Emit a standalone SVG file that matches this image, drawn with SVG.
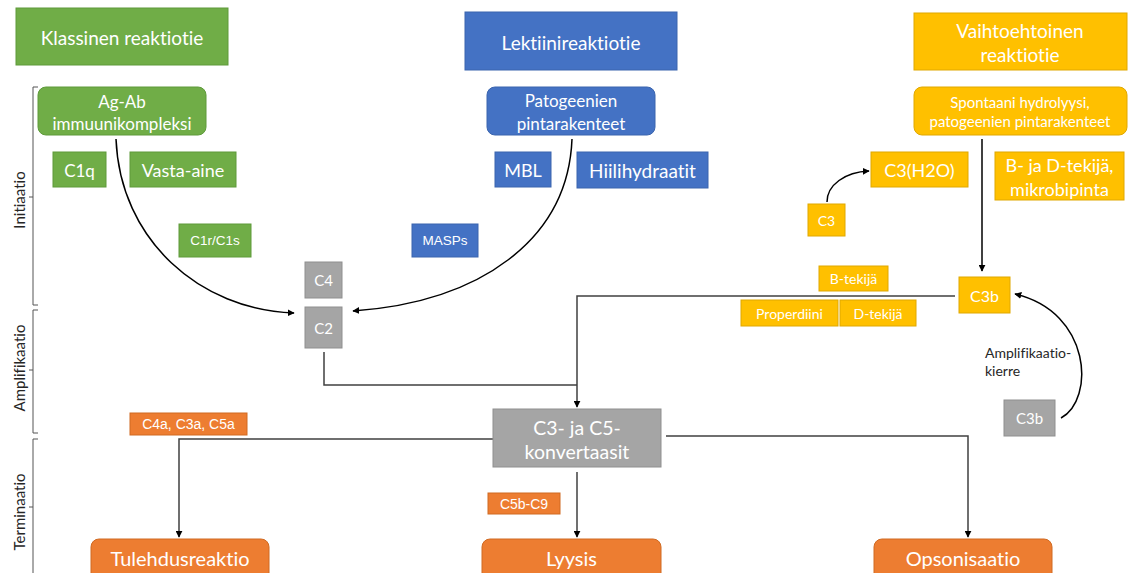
<svg xmlns="http://www.w3.org/2000/svg" width="1128" height="573" viewBox="0 0 1128 573">
<style>
.t{font-family:Lato,"Liberation Sans",sans-serif;fill:#fff;text-anchor:middle;dominant-baseline:central;font-variant-ligatures:none}
.a{font-family:"Liberation Sans",Arial,sans-serif;fill:#fff;text-anchor:middle;dominant-baseline:central}
.g rect{fill:#70AD47;stroke:#5E9A3A;stroke-width:1}
.b rect{fill:#4472C4;stroke:#3A64AE;stroke-width:1}
.y rect{fill:#FFC000;stroke:#E0A800;stroke-width:1}
.o rect{fill:#ED7D31;stroke:#D06A22;stroke-width:1}
.s rect{fill:#A5A5A5;stroke:#8F8F8F;stroke-width:1}
.c{fill:none;stroke:#000;stroke-width:1.5}
.k{fill:none;stroke:#404040;stroke-width:1.5}
.br{fill:none;stroke:#555;stroke-width:1}
.lab{font-family:Lato,"Liberation Sans",sans-serif;fill:#262626;text-anchor:middle;dominant-baseline:central;font-variant-ligatures:none}
.ls{text-anchor:start}
</style>
<defs>
<marker id="ar" viewBox="0 0 10 10" refX="9" refY="5" markerWidth="7" markerHeight="7" orient="auto" markerUnits="userSpaceOnUse">
<path d="M0,0 L10,5 L0,10 z" fill="#000"/>
</marker>
</defs>
<rect width="1128" height="573" fill="#fff"/>

<g id="brackets">
<path class="br" d="M38,87 H33 V305 H38 M33,197 H29"/>
<path class="br" d="M38,310 H33 V433 H38 M33,370 H29"/>
<path class="br" d="M38,439 H33 V573 M33,507 H29"/>
<text class="lab" font-size="15" transform="translate(19,200) rotate(-90)">Initiaatio</text>
<text class="lab" font-size="15" transform="translate(19,368) rotate(-90)">Amplifikaatio</text>
<text class="lab" font-size="15" transform="translate(19,512) rotate(-90)">Terminaatio</text>
</g>

<g id="connectors">
<path class="c" d="M116,139 C120,240 200,310 294,313" marker-end="url(#ar)"/>
<path class="c" d="M572,139 C568,240 480,302 353,311" marker-end="url(#ar)"/>
<path class="k" d="M324,352 V385 H577"/>
<path class="k" d="M955,296 H577 V407" marker-end="url(#ar)"/>
<path class="c" d="M982,139 V271" marker-end="url(#ar)"/>
<path class="c" d="M827,202 C827,185 845,172 869,171" marker-end="url(#ar)"/>
<path class="c" d="M1061,418 C1095,400 1092,312 1015,294" marker-end="url(#ar)"/>
<path class="k" d="M493,439 H179 V537" marker-end="url(#ar)"/>
<path class="k" d="M666,436 H968 V537" marker-end="url(#ar)"/>
<path class="k" d="M577,472 V537" marker-end="url(#ar)"/>
</g>

<g id="n-klassinen" class="g"><rect x="16" y="8" width="212" height="57"/><text class="t" x="122" y="37" font-size="19">Klassinen reaktiotie</text></g>
<g id="n-lektiini" class="b"><rect x="465" y="12" width="212" height="58"/><text class="t" x="571" y="42" font-size="19">Lektiinireaktiotie</text></g>
<g id="n-vaihto" class="y"><rect x="914" y="13" width="213" height="57"/><text class="t" x="1020" y="30" font-size="19">Vaihtoehtoinen</text><text class="t" x="1020" y="54" font-size="19">reaktiotie</text></g>

<g id="n-agab" class="g"><rect x="38" y="87" width="168" height="48" rx="8"/><text class="t" x="122" y="101" font-size="17">Ag-Ab</text><text class="t" x="122" y="123" font-size="17">immuunikompleksi</text></g>
<g id="n-patog" class="b"><rect x="487" y="87" width="168" height="48" rx="8"/><text class="t" x="571" y="100" font-size="17">Patogeenien</text><text class="t" x="571" y="123" font-size="17">pintarakenteet</text></g>
<g id="n-spont" class="y"><rect x="914" y="87" width="213" height="48" rx="8"/><text class="t" x="1020" y="102" font-size="15">Spontaani hydrolyysi,</text><text class="t" x="1020" y="121" font-size="15">patogeenien pintarakenteet</text></g>

<g id="n-c1q" class="g"><rect x="53" y="152" width="53" height="35"/><text class="t" x="79.5" y="170" font-size="17">C1q</text></g>
<g id="n-vasta" class="g"><rect x="130" y="152" width="106" height="35"/><text class="t" x="183" y="170" font-size="18">Vasta-aine</text></g>
<g id="n-mbl" class="b"><rect x="495" y="152" width="56" height="35"/><text class="t" x="523" y="170" font-size="18">MBL</text></g>
<g id="n-hiili" class="b"><rect x="577" y="152" width="131" height="36"/><text class="t" x="642.5" y="170" font-size="19">Hiilihydraatit</text></g>
<g id="n-c3h2o" class="y"><rect x="871" y="152" width="97" height="35"/><text class="t" x="919.5" y="170" font-size="18">C3(H2O)</text></g>
<g id="n-bd" class="y"><rect x="995" y="152" width="129" height="48"/><text class="t" x="1059.5" y="165" font-size="18">B- ja D-tekijä,</text><text class="t" x="1059.5" y="189" font-size="18">mikrobipinta</text></g>
<g id="n-c3" class="y"><rect x="808" y="204" width="37" height="32"/><text class="t" x="826.5" y="220" font-size="14">C3</text></g>

<g id="n-c1r" class="g"><rect x="179" y="224" width="72" height="33"/><text class="a" x="215" y="240.5" font-size="13.5">C1r/C1s</text></g>
<g id="n-masps" class="b"><rect x="412" y="224" width="66" height="33"/><text class="a" x="445" y="240.5" font-size="13.5">MASPs</text></g>

<g id="n-c4" class="s"><rect x="305" y="262" width="37" height="36"/><text class="t" x="323.5" y="280" font-size="15">C4</text></g>
<g id="n-c2" class="s"><rect x="305" y="307" width="37" height="41"/><text class="t" x="323.5" y="328" font-size="15">C2</text></g>

<g id="n-btek" class="y"><rect x="819" y="266" width="69" height="25"/><text class="t" x="853.5" y="278.5" font-size="14">B-tekijä</text></g>
<g id="n-c3b" class="y"><rect x="959" y="277" width="51" height="36"/><text class="t" x="984.5" y="295" font-size="16">C3b</text></g>
<g id="n-proper" class="y"><rect x="741" y="300" width="97" height="26"/><text class="t" x="789.5" y="313" font-size="14">Properdiini</text></g>
<g id="n-dtek" class="y"><rect x="840" y="300" width="76" height="26"/><text class="t" x="878" y="313" font-size="14">D-tekijä</text></g>

<g id="n-amp-label"><text class="lab ls" x="985" y="352" font-size="14">Amplifikaatio-</text><text class="lab ls" x="985" y="370" font-size="14">kierre</text></g>
<g id="n-c3b2" class="s"><rect x="1004" y="400" width="51" height="36"/><text class="t" x="1029.5" y="418" font-size="15">C3b</text></g>

<g id="n-c4a" class="o"><rect x="130" y="413" width="117" height="22"/><text class="a" x="188.5" y="424" font-size="14">C4a, C3a, C5a</text></g>
<g id="n-konv" class="s"><rect x="493" y="409" width="168" height="58"/><text class="t" x="577" y="427" font-size="19.5">C3- ja C5-</text><text class="t" x="577" y="451" font-size="19.5">konvertaasit</text></g>
<g id="n-c5b" class="o"><rect x="488" y="493" width="72" height="21"/><text class="a" x="524" y="503.5" font-size="14">C5b-C9</text></g>

<g id="n-tuleh" class="o"><rect x="91" y="539" width="178" height="44" rx="8"/><text class="t" x="180" y="558" font-size="20">Tulehdusreaktio</text></g>
<g id="n-lyysis" class="o"><rect x="482" y="539" width="179" height="44" rx="8"/><text class="t" x="571.5" y="558" font-size="20">Lyysis</text></g>
<g id="n-opson" class="o"><rect x="874" y="539" width="178" height="44" rx="8"/><text class="t" x="963" y="558" font-size="20">Opsonisaatio</text></g>
</svg>
